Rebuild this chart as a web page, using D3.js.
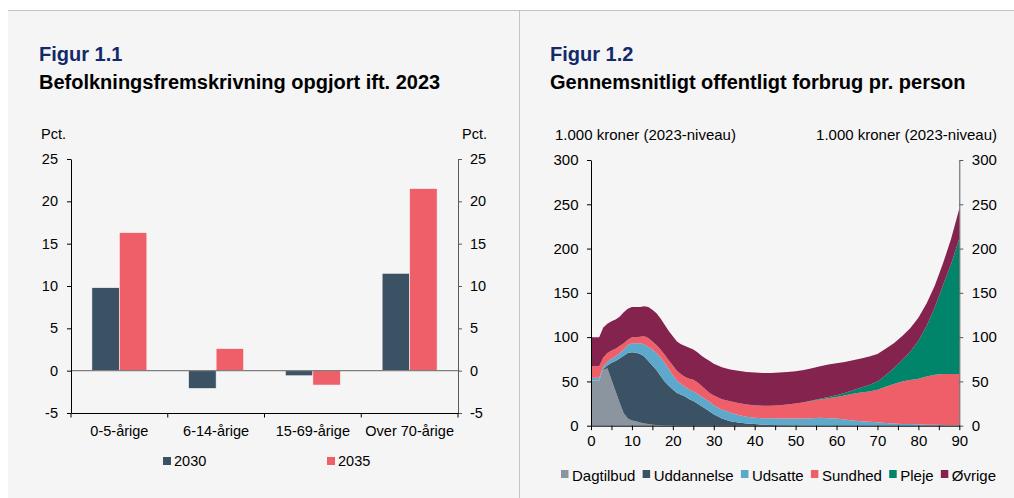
<!DOCTYPE html>
<meta charset="utf-8">
<title>Figur 1.1 og 1.2</title>
<style>
  body { margin: 0; background: #fff; }
  svg { display: block; font-family: "Liberation Sans", Arial, sans-serif; }
  .axis text { font-size: 14.5px; fill: #000; font-family: "Liberation Sans", Arial, sans-serif; }
  .axis.big text { font-size: 15px; }
</style>
<body>
<script src="https://d3js.org/d3.v7.min.js"></script>
<script>
const width = 1014, height = 498;

// Figur 1.1 - befolkningsfremskrivning, pct. ift. 2023
const ageGroups = ["0-5-årige", "6-14-årige", "15-69-årige", "Over 70-årige"];
const popYears = ["2030", "2035"];
const pop2030 = [9.8, -2.1, -0.6, 11.5];
const pop2035 = [16.3, 2.6, -1.7, 21.5];
const popTicks = [-5, 0, 5, 10, 15, 20, 25];

// Figur 1.2 - offentligt forbrug pr. person, 1.000 kr.
const ages = [0, 1, 2, 3, 4, 5, 6, 7, 8, 9, 10, 11, 12, 13, 14, 15, 16, 17, 18, 19, 20,
  21, 22, 23, 24, 25, 26, 27, 28, 29, 30, 32, 34, 36, 38, 40, 42, 44, 46, 48, 50,
  52, 54, 56, 58, 60, 62, 64, 66, 68, 70, 72, 74, 76, 78, 80, 82, 84, 86, 88, 90];
const dagtilbud = [51, 51, 51, 63, 65, 52, 39, 26, 14, 8, 6, 5, 3.5, 2.5, 1.8, 1.2, 0.8, 0.5, 0.3, 0.2, 0.1,
  0, 0, 0, 0, 0, 0, 0, 0, 0, 0, 0, 0, 0, 0, 0, 0, 0, 0, 0, 0,
  0, 0, 0, 0, 0, 0, 0, 0, 0, 0, 0, 0, 0, 0, 0, 0, 0, 0, 0, 0];
const uddannelse = [0, 0, 0, 1, 3, 19, 34, 50, 65, 74, 77, 77.5, 77.5, 75.5, 71.2, 66.8, 62.2, 55.5, 49.7, 44.8, 40.9,
  37, 35, 33, 30, 28, 25, 22, 19, 16, 13, 8, 5, 3.5, 2.5, 1.8, 1.2, 0.8, 0.5, 0.4, 0.3,
  0.2, 0.1, 0, 0, 0, 0, 0, 0, 0, 0, 0, 0, 0, 0, 0, 0, 0, 0, 0, 0];
const udsatte = [3, 3, 3, 3, 4, 5, 5, 6, 7, 9, 10, 10.5, 12, 14, 16, 18, 19, 21, 21, 19, 16,
  14, 12, 11, 11, 11, 11, 11, 11, 11, 10, 10, 10, 8.5, 7.5, 7.2, 7.3, 7.5, 7.5, 7.6, 7.7,
  7.8, 8.4, 9, 8.5, 8, 7, 6, 5, 4.5, 4, 3, 2.5, 2, 1.8, 1.5, 1.2, 1, 0.8, 0.5, 0.4];
const sundhed = [13, 13, 13, 10, 10, 9, 9, 8, 7, 6, 7, 7, 7.5, 9, 10, 9, 9, 9, 9, 10, 11,
  11, 11, 11, 12, 13, 13, 12, 11, 10, 11, 12, 12.5, 13.5, 14, 14, 14, 14.2, 15, 16, 17,
  18.5, 19.5, 20.5, 22.5, 24.5, 27, 30, 32.5, 34, 36.5, 41, 44.5, 48, 49.7, 51.5, 54.3, 56.5, 57.7, 58, 58.1];
const pleje = [0, 0, 0, 0, 0, 0, 0, 0, 0, 0, 0, 0, 0, 0, 0, 0, 0, 0, 0, 0, 0,
  0, 0, 0, 0, 0, 0, 0, 0, 0, 0, 0, 0, 0, 0, 0, 0, 0, 0, 0, 0,
  0.1, 0.5, 1, 1.5, 2, 3, 4, 5.5, 7.5, 9.5, 13, 18, 24, 32, 43, 57, 76, 100, 124, 153];
const ovrige = [33, 33, 33, 34, 33, 33, 33, 33, 35, 35, 34, 34, 33.5, 34, 35, 36, 36, 35, 34, 33, 33,
  33, 34, 35, 35, 34, 34, 34, 35, 36, 36, 36, 36, 36.5, 36.5, 37, 37, 37, 37, 36.5, 36.5,
  36.4, 36.5, 36.5, 36.5, 36, 35, 34, 33, 32, 31, 30, 28, 27, 26.5, 26, 25.5, 24.5, 24.5, 28.5, 33.5];
const spendKeys = ["Dagtilbud", "Uddannelse", "Udsatte", "Sundhed", "Pleje", "Øvrige"];
const spendTicks = [0, 50, 100, 150, 200, 250, 300];

const colors = {
  "2030": "#3b5264", "2035": "#ef5f69",
  "Dagtilbud": "#8a959f", "Uddannelse": "#3b5264", "Udsatte": "#5da9cc",
  "Sundhed": "#ef5f69", "Pleje": "#00846a", "Øvrige": "#84234d"
};

const svg = d3.select("body").append("svg")
    .attr("width", width)
    .attr("height", height);

// baggrund og rammer
svg.append("rect").attr("x", 8).attr("y", 10).attr("width", width - 8).attr("height", height - 10).attr("fill", "#f5f5f5");
svg.append("line").attr("x1", 8).attr("x2", width).attr("y1", 10.5).attr("y2", 10.5).attr("stroke", "#c4c4c4");
svg.append("line").attr("x1", 519.5).attr("x2", 519.5).attr("y1", 10).attr("y2", height).attr("stroke", "#c4c4c4");

function heading(x, fig, title) {
    svg.append("text").attr("x", x).attr("y", 60.5)
        .attr("font-size", 20).attr("font-weight", "bold").attr("fill", "#13296b").text(fig);
    svg.append("text").attr("x", x).attr("y", 88.5)
        .attr("font-size", 20).attr("font-weight", "bold").attr("fill", "#000").text(title);
}

// almindelig bindestreg som minus, som i originalen
const plain = d => String(d);

// ---------- Figur 1.1 ----------
heading(39, "Figur 1.1", "Befolkningsfremskrivning opgjort ift. 2023");

const y1 = d3.scaleLinear().domain([-5, 25]).range([413, 159]);
const x1 = d3.scaleBand().domain(ageGroups).range([71, 458]);
const xs = d3.scaleBand().domain(popYears).range([0, x1.bandwidth()]).paddingOuter(0.76);

const popRows = ageGroups.map((g, i) => ({group: g, "2030": pop2030[i], "2035": pop2035[i]}));

svg.append("g")
    .selectAll("g")
    .data(popRows)
    .join("g")
    .attr("transform", d => `translate(${x1(d.group)},0)`)
    .selectAll("rect")
    .data(d => popYears.map(k => ({key: k, value: d[k]})))
    .join("rect")
    .attr("x", d => xs(d.key))
    .attr("width", xs.bandwidth())
    .attr("y", d => y1(Math.max(0, d.value)))
    .attr("height", d => Math.abs(y1(d.value) - y1(0)))
    .attr("fill", d => colors[d.key])
    .attr("stroke", "#f5f5f5")
    .attr("stroke-width", 0.6);

svg.append("line")
    .attr("x1", 71).attr("x2", 458)
    .attr("y1", y1(0)).attr("y2", y1(0))
    .attr("stroke", "#7f7f7f").attr("stroke-width", 1.2);

svg.append("g").attr("class", "axis")
    .attr("transform", "translate(71,0)")
    .call(d3.axisLeft(y1).tickValues(popTicks).tickFormat(plain).tickSize(4).tickSizeOuter(0).tickPadding(9))
    .call(g => g.selectAll("path, line").attr("stroke", "#000"));

svg.append("g").attr("class", "axis")
    .attr("transform", "translate(458,0)")
    .call(d3.axisRight(y1).tickValues(popTicks).tickFormat(plain).tickSize(4).tickSizeOuter(0).tickPadding(8))
    .call(g => g.selectAll("path, line").attr("stroke", "#595959"));

svg.append("g").attr("class", "axis")
    .attr("transform", "translate(0,413)")
    .call(d3.axisBottom(x1).tickSize(0).tickPadding(13))
    .call(g => g.select(".domain").attr("stroke", "#000"));

svg.append("g")
    .selectAll("line")
    .data(ageGroups.map(d => x1(d)).concat(x1.range()[1]))
    .join("line")
    .attr("x1", d => d).attr("x2", d => d)
    .attr("y1", 413).attr("y2", 417.5)
    .attr("stroke", "#000");

svg.append("text").attr("x", 41).attr("y", 139).attr("font-size", 14.5).text("Pct.");
svg.append("text").attr("x", 487).attr("y", 139).attr("font-size", 14.5).attr("text-anchor", "end").text("Pct.");

const leg1 = svg.append("g")
    .selectAll("g")
    .data(popYears)
    .join("g")
    .attr("transform", (d, i) => `translate(${163 + i * 164},457)`);
leg1.append("rect").attr("width", 8).attr("height", 8).attr("fill", d => colors[d]);
leg1.append("text").attr("x", 11).attr("y", 9).attr("font-size", 14.5).text(d => d);

// ---------- Figur 1.2 ----------
heading(550, "Figur 1.2", "Gennemsnitligt offentligt forbrug pr. person");

const x2 = d3.scaleLinear().domain([0, 90]).range([591, 959.3]);
const y2 = d3.scaleLinear().domain([0, 300]).range([425.7, 160]);

const spendRows = ages.map((a, i) => ({
    age: a,
    "Dagtilbud": dagtilbud[i], "Uddannelse": uddannelse[i], "Udsatte": udsatte[i],
    "Sundhed": sundhed[i], "Pleje": pleje[i], "Øvrige": ovrige[i]
}));

const stacked = d3.stack().keys(spendKeys)(spendRows);

const area = d3.area()
    .x(d => x2(d.data.age))
    .y0(d => y2(d[0]))
    .y1(d => y2(d[1]));

svg.append("g")
    .selectAll("path")
    .data(stacked)
    .join("path")
    .attr("fill", d => colors[d.key])
    .attr("d", area);

svg.append("g").attr("class", "axis big")
    .attr("transform", "translate(591,0)")
    .call(d3.axisLeft(y2).tickValues(spendTicks).tickFormat(plain).tickSize(4).tickSizeOuter(0).tickPadding(8.5))
    .call(g => g.selectAll("path, line").attr("stroke", "#000"));

svg.append("g").attr("class", "axis big")
    .attr("transform", "translate(959.3,0)")
    .call(d3.axisRight(y2).tickValues(spendTicks).tickFormat(plain).tickSize(4).tickSizeOuter(0).tickPadding(8.5))
    .call(g => g.selectAll("path, line").attr("stroke", "#595959"));

svg.append("g").attr("class", "axis big")
    .attr("transform", "translate(0,425.7)")
    .call(d3.axisBottom(x2).tickValues(d3.range(0, 91, 5)).tickSize(4.5).tickSizeOuter(0).tickPadding(5)
        .tickFormat(d => d % 10 === 0 ? String(d) : ""))
    .call(g => g.selectAll("path, line").attr("stroke", "#000"));

svg.append("text").attr("x", 555).attr("y", 139.5).attr("font-size", 15).text("1.000 kroner (2023-niveau)");
svg.append("text").attr("x", 997).attr("y", 139.5).attr("font-size", 15).attr("text-anchor", "end").text("1.000 kroner (2023-niveau)");

// legende fordelt mellem x=561 og x=996
const leg2 = svg.append("g")
    .selectAll("g")
    .data(spendKeys)
    .join("g");
leg2.append("rect").attr("y", 470).attr("width", 7.5).attr("height", 8).attr("fill", d => colors[d]);
leg2.append("text").attr("x", 11).attr("y", 480.5).attr("font-size", 15).text(d => d);

const widths = [];
leg2.select("text").each(function () { widths.push(11 + this.getComputedTextLength()); });
const gap = (996 - 561 - d3.sum(widths)) / (widths.length - 1);
let lx = 561;
leg2.attr("transform", (d, i) => {
    const t = `translate(${lx},0)`;
    lx += widths[i] + gap;
    return t;
});
</script>
